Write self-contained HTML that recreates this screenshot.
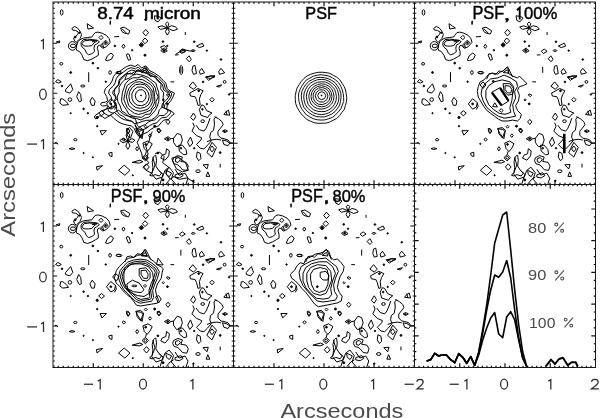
<!DOCTYPE html><html><head><meta charset="utf-8"><style>html,body{margin:0;padding:0;background:#fff}svg{display:block;will-change:transform}</style></head><body><svg width="600" height="418" viewBox="0 0 600 418"><g stroke="#1a1a1a" stroke-width="1" fill="none"><rect x="53" y="2" width="542.5" height="365.5" fill="none"/><line x1="233.5" y1="2" x2="233.5" y2="367.5"/><line x1="414.5" y1="2" x2="414.5" y2="367.5"/><line x1="53" y1="184.5" x2="595.5" y2="184.5"/><path d="M53 3.25L54.8 3.25M233.5 3.25L231.7 3.25M58.25 2L58.25 3.8M58.25 184.5L58.25 182.7M53 8.25L54.8 8.25M233.5 8.25L231.7 8.25M63.25 2L63.25 3.8M63.25 184.5L63.25 182.7M53 13.25L54.8 13.25M233.5 13.25L231.7 13.25M68.25 2L68.25 3.8M68.25 184.5L68.25 182.7M53 18.25L54.8 18.25M233.5 18.25L231.7 18.25M73.25 2L73.25 3.8M73.25 184.5L73.25 182.7M53 23.25L54.8 23.25M233.5 23.25L231.7 23.25M78.25 2L78.25 3.8M78.25 184.5L78.25 182.7M53 28.25L54.8 28.25M233.5 28.25L231.7 28.25M83.25 2L83.25 3.8M83.25 184.5L83.25 182.7M53 33.25L54.8 33.25M233.5 33.25L231.7 33.25M88.25 2L88.25 3.8M88.25 184.5L88.25 182.7M53 38.25L54.8 38.25M233.5 38.25L231.7 38.25M93.25 2L93.25 6.2M93.25 184.5L93.25 180.3M53 43.25L57.2 43.25M233.5 43.25L229.3 43.25M98.25 2L98.25 3.8M98.25 184.5L98.25 182.7M53 48.25L54.8 48.25M233.5 48.25L231.7 48.25M103.25 2L103.25 3.8M103.25 184.5L103.25 182.7M53 53.25L54.8 53.25M233.5 53.25L231.7 53.25M108.25 2L108.25 3.8M108.25 184.5L108.25 182.7M53 58.25L54.8 58.25M233.5 58.25L231.7 58.25M113.25 2L113.25 3.8M113.25 184.5L113.25 182.7M53 63.25L54.8 63.25M233.5 63.25L231.7 63.25M118.25 2L118.25 3.8M118.25 184.5L118.25 182.7M53 68.25L54.8 68.25M233.5 68.25L231.7 68.25M123.25 2L123.25 3.8M123.25 184.5L123.25 182.7M53 73.25L54.8 73.25M233.5 73.25L231.7 73.25M128.25 2L128.25 3.8M128.25 184.5L128.25 182.7M53 78.25L54.8 78.25M233.5 78.25L231.7 78.25M133.25 2L133.25 3.8M133.25 184.5L133.25 182.7M53 83.25L54.8 83.25M233.5 83.25L231.7 83.25M138.25 2L138.25 3.8M138.25 184.5L138.25 182.7M53 88.25L54.8 88.25M233.5 88.25L231.7 88.25M143.25 2L143.25 6.2M143.25 184.5L143.25 180.3M53 93.25L57.2 93.25M233.5 93.25L229.3 93.25M148.25 2L148.25 3.8M148.25 184.5L148.25 182.7M53 98.25L54.8 98.25M233.5 98.25L231.7 98.25M153.25 2L153.25 3.8M153.25 184.5L153.25 182.7M53 103.25L54.8 103.25M233.5 103.25L231.7 103.25M158.25 2L158.25 3.8M158.25 184.5L158.25 182.7M53 108.25L54.8 108.25M233.5 108.25L231.7 108.25M163.25 2L163.25 3.8M163.25 184.5L163.25 182.7M53 113.25L54.8 113.25M233.5 113.25L231.7 113.25M168.25 2L168.25 3.8M168.25 184.5L168.25 182.7M53 118.25L54.8 118.25M233.5 118.25L231.7 118.25M173.25 2L173.25 3.8M173.25 184.5L173.25 182.7M53 123.25L54.8 123.25M233.5 123.25L231.7 123.25M178.25 2L178.25 3.8M178.25 184.5L178.25 182.7M53 128.25L54.8 128.25M233.5 128.25L231.7 128.25M183.25 2L183.25 3.8M183.25 184.5L183.25 182.7M53 133.25L54.8 133.25M233.5 133.25L231.7 133.25M188.25 2L188.25 3.8M188.25 184.5L188.25 182.7M53 138.25L54.8 138.25M233.5 138.25L231.7 138.25M193.25 2L193.25 6.2M193.25 184.5L193.25 180.3M53 143.25L57.2 143.25M233.5 143.25L229.3 143.25M198.25 2L198.25 3.8M198.25 184.5L198.25 182.7M53 148.25L54.8 148.25M233.5 148.25L231.7 148.25M203.25 2L203.25 3.8M203.25 184.5L203.25 182.7M53 153.25L54.8 153.25M233.5 153.25L231.7 153.25M208.25 2L208.25 3.8M208.25 184.5L208.25 182.7M53 158.25L54.8 158.25M233.5 158.25L231.7 158.25M213.25 2L213.25 3.8M213.25 184.5L213.25 182.7M53 163.25L54.8 163.25M233.5 163.25L231.7 163.25M218.25 2L218.25 3.8M218.25 184.5L218.25 182.7M53 168.25L54.8 168.25M233.5 168.25L231.7 168.25M223.25 2L223.25 3.8M223.25 184.5L223.25 182.7M53 173.25L54.8 173.25M233.5 173.25L231.7 173.25M228.25 2L228.25 3.8M228.25 184.5L228.25 182.7M53 178.25L54.8 178.25M233.5 178.25L231.7 178.25M53 183.25L54.8 183.25M233.5 183.25L231.7 183.25M233.5 3.25L235.3 3.25M414.5 3.25L412.7 3.25M239 2L239 3.8M239 184.5L239 182.7M233.5 8.25L235.3 8.25M414.5 8.25L412.7 8.25M244 2L244 3.8M244 184.5L244 182.7M233.5 13.25L235.3 13.25M414.5 13.25L412.7 13.25M249 2L249 3.8M249 184.5L249 182.7M233.5 18.25L235.3 18.25M414.5 18.25L412.7 18.25M254 2L254 3.8M254 184.5L254 182.7M233.5 23.25L235.3 23.25M414.5 23.25L412.7 23.25M259 2L259 3.8M259 184.5L259 182.7M233.5 28.25L235.3 28.25M414.5 28.25L412.7 28.25M264 2L264 3.8M264 184.5L264 182.7M233.5 33.25L235.3 33.25M414.5 33.25L412.7 33.25M269 2L269 3.8M269 184.5L269 182.7M233.5 38.25L235.3 38.25M414.5 38.25L412.7 38.25M274 2L274 6.2M274 184.5L274 180.3M233.5 43.25L237.7 43.25M414.5 43.25L410.3 43.25M279 2L279 3.8M279 184.5L279 182.7M233.5 48.25L235.3 48.25M414.5 48.25L412.7 48.25M284 2L284 3.8M284 184.5L284 182.7M233.5 53.25L235.3 53.25M414.5 53.25L412.7 53.25M289 2L289 3.8M289 184.5L289 182.7M233.5 58.25L235.3 58.25M414.5 58.25L412.7 58.25M294 2L294 3.8M294 184.5L294 182.7M233.5 63.25L235.3 63.25M414.5 63.25L412.7 63.25M299 2L299 3.8M299 184.5L299 182.7M233.5 68.25L235.3 68.25M414.5 68.25L412.7 68.25M304 2L304 3.8M304 184.5L304 182.7M233.5 73.25L235.3 73.25M414.5 73.25L412.7 73.25M309 2L309 3.8M309 184.5L309 182.7M233.5 78.25L235.3 78.25M414.5 78.25L412.7 78.25M314 2L314 3.8M314 184.5L314 182.7M233.5 83.25L235.3 83.25M414.5 83.25L412.7 83.25M319 2L319 3.8M319 184.5L319 182.7M233.5 88.25L235.3 88.25M414.5 88.25L412.7 88.25M324 2L324 6.2M324 184.5L324 180.3M233.5 93.25L237.7 93.25M414.5 93.25L410.3 93.25M329 2L329 3.8M329 184.5L329 182.7M233.5 98.25L235.3 98.25M414.5 98.25L412.7 98.25M334 2L334 3.8M334 184.5L334 182.7M233.5 103.25L235.3 103.25M414.5 103.25L412.7 103.25M339 2L339 3.8M339 184.5L339 182.7M233.5 108.25L235.3 108.25M414.5 108.25L412.7 108.25M344 2L344 3.8M344 184.5L344 182.7M233.5 113.25L235.3 113.25M414.5 113.25L412.7 113.25M349 2L349 3.8M349 184.5L349 182.7M233.5 118.25L235.3 118.25M414.5 118.25L412.7 118.25M354 2L354 3.8M354 184.5L354 182.7M233.5 123.25L235.3 123.25M414.5 123.25L412.7 123.25M359 2L359 3.8M359 184.5L359 182.7M233.5 128.25L235.3 128.25M414.5 128.25L412.7 128.25M364 2L364 3.8M364 184.5L364 182.7M233.5 133.25L235.3 133.25M414.5 133.25L412.7 133.25M369 2L369 3.8M369 184.5L369 182.7M233.5 138.25L235.3 138.25M414.5 138.25L412.7 138.25M374 2L374 6.2M374 184.5L374 180.3M233.5 143.25L237.7 143.25M414.5 143.25L410.3 143.25M379 2L379 3.8M379 184.5L379 182.7M233.5 148.25L235.3 148.25M414.5 148.25L412.7 148.25M384 2L384 3.8M384 184.5L384 182.7M233.5 153.25L235.3 153.25M414.5 153.25L412.7 153.25M389 2L389 3.8M389 184.5L389 182.7M233.5 158.25L235.3 158.25M414.5 158.25L412.7 158.25M394 2L394 3.8M394 184.5L394 182.7M233.5 163.25L235.3 163.25M414.5 163.25L412.7 163.25M399 2L399 3.8M399 184.5L399 182.7M233.5 168.25L235.3 168.25M414.5 168.25L412.7 168.25M404 2L404 3.8M404 184.5L404 182.7M233.5 173.25L235.3 173.25M414.5 173.25L412.7 173.25M409 2L409 3.8M409 184.5L409 182.7M233.5 178.25L235.3 178.25M414.5 178.25L412.7 178.25M233.5 183.25L235.3 183.25M414.5 183.25L412.7 183.25M414.5 3.25L416.3 3.25M595.5 3.25L593.7 3.25M420 2L420 3.8M420 184.5L420 182.7M414.5 8.25L416.3 8.25M595.5 8.25L593.7 8.25M425 2L425 3.8M425 184.5L425 182.7M414.5 13.25L416.3 13.25M595.5 13.25L593.7 13.25M430 2L430 3.8M430 184.5L430 182.7M414.5 18.25L416.3 18.25M595.5 18.25L593.7 18.25M435 2L435 3.8M435 184.5L435 182.7M414.5 23.25L416.3 23.25M595.5 23.25L593.7 23.25M440 2L440 3.8M440 184.5L440 182.7M414.5 28.25L416.3 28.25M595.5 28.25L593.7 28.25M445 2L445 3.8M445 184.5L445 182.7M414.5 33.25L416.3 33.25M595.5 33.25L593.7 33.25M450 2L450 3.8M450 184.5L450 182.7M414.5 38.25L416.3 38.25M595.5 38.25L593.7 38.25M455 2L455 6.2M455 184.5L455 180.3M414.5 43.25L418.7 43.25M595.5 43.25L591.3 43.25M460 2L460 3.8M460 184.5L460 182.7M414.5 48.25L416.3 48.25M595.5 48.25L593.7 48.25M465 2L465 3.8M465 184.5L465 182.7M414.5 53.25L416.3 53.25M595.5 53.25L593.7 53.25M470 2L470 3.8M470 184.5L470 182.7M414.5 58.25L416.3 58.25M595.5 58.25L593.7 58.25M475 2L475 3.8M475 184.5L475 182.7M414.5 63.25L416.3 63.25M595.5 63.25L593.7 63.25M480 2L480 3.8M480 184.5L480 182.7M414.5 68.25L416.3 68.25M595.5 68.25L593.7 68.25M485 2L485 3.8M485 184.5L485 182.7M414.5 73.25L416.3 73.25M595.5 73.25L593.7 73.25M490 2L490 3.8M490 184.5L490 182.7M414.5 78.25L416.3 78.25M595.5 78.25L593.7 78.25M495 2L495 3.8M495 184.5L495 182.7M414.5 83.25L416.3 83.25M595.5 83.25L593.7 83.25M500 2L500 3.8M500 184.5L500 182.7M414.5 88.25L416.3 88.25M595.5 88.25L593.7 88.25M505 2L505 6.2M505 184.5L505 180.3M414.5 93.25L418.7 93.25M595.5 93.25L591.3 93.25M510 2L510 3.8M510 184.5L510 182.7M414.5 98.25L416.3 98.25M595.5 98.25L593.7 98.25M515 2L515 3.8M515 184.5L515 182.7M414.5 103.25L416.3 103.25M595.5 103.25L593.7 103.25M520 2L520 3.8M520 184.5L520 182.7M414.5 108.25L416.3 108.25M595.5 108.25L593.7 108.25M525 2L525 3.8M525 184.5L525 182.7M414.5 113.25L416.3 113.25M595.5 113.25L593.7 113.25M530 2L530 3.8M530 184.5L530 182.7M414.5 118.25L416.3 118.25M595.5 118.25L593.7 118.25M535 2L535 3.8M535 184.5L535 182.7M414.5 123.25L416.3 123.25M595.5 123.25L593.7 123.25M540 2L540 3.8M540 184.5L540 182.7M414.5 128.25L416.3 128.25M595.5 128.25L593.7 128.25M545 2L545 3.8M545 184.5L545 182.7M414.5 133.25L416.3 133.25M595.5 133.25L593.7 133.25M550 2L550 3.8M550 184.5L550 182.7M414.5 138.25L416.3 138.25M595.5 138.25L593.7 138.25M555 2L555 6.2M555 184.5L555 180.3M414.5 143.25L418.7 143.25M595.5 143.25L591.3 143.25M560 2L560 3.8M560 184.5L560 182.7M414.5 148.25L416.3 148.25M595.5 148.25L593.7 148.25M565 2L565 3.8M565 184.5L565 182.7M414.5 153.25L416.3 153.25M595.5 153.25L593.7 153.25M570 2L570 3.8M570 184.5L570 182.7M414.5 158.25L416.3 158.25M595.5 158.25L593.7 158.25M575 2L575 3.8M575 184.5L575 182.7M414.5 163.25L416.3 163.25M595.5 163.25L593.7 163.25M580 2L580 3.8M580 184.5L580 182.7M414.5 168.25L416.3 168.25M595.5 168.25L593.7 168.25M585 2L585 3.8M585 184.5L585 182.7M414.5 173.25L416.3 173.25M595.5 173.25L593.7 173.25M590 2L590 3.8M590 184.5L590 182.7M414.5 178.25L416.3 178.25M595.5 178.25L593.7 178.25M414.5 183.25L416.3 183.25M595.5 183.25L593.7 183.25M53 186L54.8 186M233.5 186L231.7 186M58.25 184.5L58.25 186.3M58.25 367.5L58.25 365.7M53 191L54.8 191M233.5 191L231.7 191M63.25 184.5L63.25 186.3M63.25 367.5L63.25 365.7M53 196L54.8 196M233.5 196L231.7 196M68.25 184.5L68.25 186.3M68.25 367.5L68.25 365.7M53 201L54.8 201M233.5 201L231.7 201M73.25 184.5L73.25 186.3M73.25 367.5L73.25 365.7M53 206L54.8 206M233.5 206L231.7 206M78.25 184.5L78.25 186.3M78.25 367.5L78.25 365.7M53 211L54.8 211M233.5 211L231.7 211M83.25 184.5L83.25 186.3M83.25 367.5L83.25 365.7M53 216L54.8 216M233.5 216L231.7 216M88.25 184.5L88.25 186.3M88.25 367.5L88.25 365.7M53 221L54.8 221M233.5 221L231.7 221M93.25 184.5L93.25 188.7M93.25 367.5L93.25 363.3M53 226L57.2 226M233.5 226L229.3 226M98.25 184.5L98.25 186.3M98.25 367.5L98.25 365.7M53 231L54.8 231M233.5 231L231.7 231M103.25 184.5L103.25 186.3M103.25 367.5L103.25 365.7M53 236L54.8 236M233.5 236L231.7 236M108.25 184.5L108.25 186.3M108.25 367.5L108.25 365.7M53 241L54.8 241M233.5 241L231.7 241M113.25 184.5L113.25 186.3M113.25 367.5L113.25 365.7M53 246L54.8 246M233.5 246L231.7 246M118.25 184.5L118.25 186.3M118.25 367.5L118.25 365.7M53 251L54.8 251M233.5 251L231.7 251M123.25 184.5L123.25 186.3M123.25 367.5L123.25 365.7M53 256L54.8 256M233.5 256L231.7 256M128.25 184.5L128.25 186.3M128.25 367.5L128.25 365.7M53 261L54.8 261M233.5 261L231.7 261M133.25 184.5L133.25 186.3M133.25 367.5L133.25 365.7M53 266L54.8 266M233.5 266L231.7 266M138.25 184.5L138.25 186.3M138.25 367.5L138.25 365.7M53 271L54.8 271M233.5 271L231.7 271M143.25 184.5L143.25 188.7M143.25 367.5L143.25 363.3M53 276L57.2 276M233.5 276L229.3 276M148.25 184.5L148.25 186.3M148.25 367.5L148.25 365.7M53 281L54.8 281M233.5 281L231.7 281M153.25 184.5L153.25 186.3M153.25 367.5L153.25 365.7M53 286L54.8 286M233.5 286L231.7 286M158.25 184.5L158.25 186.3M158.25 367.5L158.25 365.7M53 291L54.8 291M233.5 291L231.7 291M163.25 184.5L163.25 186.3M163.25 367.5L163.25 365.7M53 296L54.8 296M233.5 296L231.7 296M168.25 184.5L168.25 186.3M168.25 367.5L168.25 365.7M53 301L54.8 301M233.5 301L231.7 301M173.25 184.5L173.25 186.3M173.25 367.5L173.25 365.7M53 306L54.8 306M233.5 306L231.7 306M178.25 184.5L178.25 186.3M178.25 367.5L178.25 365.7M53 311L54.8 311M233.5 311L231.7 311M183.25 184.5L183.25 186.3M183.25 367.5L183.25 365.7M53 316L54.8 316M233.5 316L231.7 316M188.25 184.5L188.25 186.3M188.25 367.5L188.25 365.7M53 321L54.8 321M233.5 321L231.7 321M193.25 184.5L193.25 188.7M193.25 367.5L193.25 363.3M53 326L57.2 326M233.5 326L229.3 326M198.25 184.5L198.25 186.3M198.25 367.5L198.25 365.7M53 331L54.8 331M233.5 331L231.7 331M203.25 184.5L203.25 186.3M203.25 367.5L203.25 365.7M53 336L54.8 336M233.5 336L231.7 336M208.25 184.5L208.25 186.3M208.25 367.5L208.25 365.7M53 341L54.8 341M233.5 341L231.7 341M213.25 184.5L213.25 186.3M213.25 367.5L213.25 365.7M53 346L54.8 346M233.5 346L231.7 346M218.25 184.5L218.25 186.3M218.25 367.5L218.25 365.7M53 351L54.8 351M233.5 351L231.7 351M223.25 184.5L223.25 186.3M223.25 367.5L223.25 365.7M53 356L54.8 356M233.5 356L231.7 356M228.25 184.5L228.25 186.3M228.25 367.5L228.25 365.7M53 361L54.8 361M233.5 361L231.7 361M53 366L54.8 366M233.5 366L231.7 366M233.5 186L235.3 186M414.5 186L412.7 186M239 184.5L239 186.3M239 367.5L239 365.7M233.5 191L235.3 191M414.5 191L412.7 191M244 184.5L244 186.3M244 367.5L244 365.7M233.5 196L235.3 196M414.5 196L412.7 196M249 184.5L249 186.3M249 367.5L249 365.7M233.5 201L235.3 201M414.5 201L412.7 201M254 184.5L254 186.3M254 367.5L254 365.7M233.5 206L235.3 206M414.5 206L412.7 206M259 184.5L259 186.3M259 367.5L259 365.7M233.5 211L235.3 211M414.5 211L412.7 211M264 184.5L264 186.3M264 367.5L264 365.7M233.5 216L235.3 216M414.5 216L412.7 216M269 184.5L269 186.3M269 367.5L269 365.7M233.5 221L235.3 221M414.5 221L412.7 221M274 184.5L274 188.7M274 367.5L274 363.3M233.5 226L237.7 226M414.5 226L410.3 226M279 184.5L279 186.3M279 367.5L279 365.7M233.5 231L235.3 231M414.5 231L412.7 231M284 184.5L284 186.3M284 367.5L284 365.7M233.5 236L235.3 236M414.5 236L412.7 236M289 184.5L289 186.3M289 367.5L289 365.7M233.5 241L235.3 241M414.5 241L412.7 241M294 184.5L294 186.3M294 367.5L294 365.7M233.5 246L235.3 246M414.5 246L412.7 246M299 184.5L299 186.3M299 367.5L299 365.7M233.5 251L235.3 251M414.5 251L412.7 251M304 184.5L304 186.3M304 367.5L304 365.7M233.5 256L235.3 256M414.5 256L412.7 256M309 184.5L309 186.3M309 367.5L309 365.7M233.5 261L235.3 261M414.5 261L412.7 261M314 184.5L314 186.3M314 367.5L314 365.7M233.5 266L235.3 266M414.5 266L412.7 266M319 184.5L319 186.3M319 367.5L319 365.7M233.5 271L235.3 271M414.5 271L412.7 271M324 184.5L324 188.7M324 367.5L324 363.3M233.5 276L237.7 276M414.5 276L410.3 276M329 184.5L329 186.3M329 367.5L329 365.7M233.5 281L235.3 281M414.5 281L412.7 281M334 184.5L334 186.3M334 367.5L334 365.7M233.5 286L235.3 286M414.5 286L412.7 286M339 184.5L339 186.3M339 367.5L339 365.7M233.5 291L235.3 291M414.5 291L412.7 291M344 184.5L344 186.3M344 367.5L344 365.7M233.5 296L235.3 296M414.5 296L412.7 296M349 184.5L349 186.3M349 367.5L349 365.7M233.5 301L235.3 301M414.5 301L412.7 301M354 184.5L354 186.3M354 367.5L354 365.7M233.5 306L235.3 306M414.5 306L412.7 306M359 184.5L359 186.3M359 367.5L359 365.7M233.5 311L235.3 311M414.5 311L412.7 311M364 184.5L364 186.3M364 367.5L364 365.7M233.5 316L235.3 316M414.5 316L412.7 316M369 184.5L369 186.3M369 367.5L369 365.7M233.5 321L235.3 321M414.5 321L412.7 321M374 184.5L374 188.7M374 367.5L374 363.3M233.5 326L237.7 326M414.5 326L410.3 326M379 184.5L379 186.3M379 367.5L379 365.7M233.5 331L235.3 331M414.5 331L412.7 331M384 184.5L384 186.3M384 367.5L384 365.7M233.5 336L235.3 336M414.5 336L412.7 336M389 184.5L389 186.3M389 367.5L389 365.7M233.5 341L235.3 341M414.5 341L412.7 341M394 184.5L394 186.3M394 367.5L394 365.7M233.5 346L235.3 346M414.5 346L412.7 346M399 184.5L399 186.3M399 367.5L399 365.7M233.5 351L235.3 351M414.5 351L412.7 351M404 184.5L404 186.3M404 367.5L404 365.7M233.5 356L235.3 356M414.5 356L412.7 356M409 184.5L409 186.3M409 367.5L409 365.7M233.5 361L235.3 361M414.5 361L412.7 361M233.5 366L235.3 366M414.5 366L412.7 366M419.02 184.5L419.02 186.3M419.02 367.5L419.02 365.7M423.55 184.5L423.55 186.3M423.55 367.5L423.55 365.7M428.07 184.5L428.07 186.3M428.07 367.5L428.07 365.7M432.6 184.5L432.6 186.3M432.6 367.5L432.6 365.7M437.12 184.5L437.12 186.3M437.12 367.5L437.12 365.7M441.65 184.5L441.65 186.3M441.65 367.5L441.65 365.7M446.18 184.5L446.18 186.3M446.18 367.5L446.18 365.7M450.7 184.5L450.7 186.3M450.7 367.5L450.7 365.7M455.23 184.5L455.23 186.3M455.23 367.5L455.23 365.7M459.75 184.5L459.75 188.7M459.75 367.5L459.75 363.3M464.27 184.5L464.27 186.3M464.27 367.5L464.27 365.7M468.8 184.5L468.8 186.3M468.8 367.5L468.8 365.7M473.32 184.5L473.32 186.3M473.32 367.5L473.32 365.7M477.85 184.5L477.85 186.3M477.85 367.5L477.85 365.7M482.38 184.5L482.38 186.3M482.38 367.5L482.38 365.7M486.9 184.5L486.9 186.3M486.9 367.5L486.9 365.7M491.43 184.5L491.43 186.3M491.43 367.5L491.43 365.7M495.95 184.5L495.95 186.3M495.95 367.5L495.95 365.7M500.48 184.5L500.48 186.3M500.48 367.5L500.48 365.7M505 184.5L505 188.7M505 367.5L505 363.3M509.52 184.5L509.52 186.3M509.52 367.5L509.52 365.7M514.05 184.5L514.05 186.3M514.05 367.5L514.05 365.7M518.58 184.5L518.58 186.3M518.58 367.5L518.58 365.7M523.1 184.5L523.1 186.3M523.1 367.5L523.1 365.7M527.62 184.5L527.62 186.3M527.62 367.5L527.62 365.7M532.15 184.5L532.15 186.3M532.15 367.5L532.15 365.7M536.67 184.5L536.67 186.3M536.67 367.5L536.67 365.7M541.2 184.5L541.2 186.3M541.2 367.5L541.2 365.7M545.73 184.5L545.73 186.3M545.73 367.5L545.73 365.7M550.25 184.5L550.25 188.7M550.25 367.5L550.25 363.3M554.77 184.5L554.77 186.3M554.77 367.5L554.77 365.7M559.3 184.5L559.3 186.3M559.3 367.5L559.3 365.7M563.83 184.5L563.83 186.3M563.83 367.5L563.83 365.7M568.35 184.5L568.35 186.3M568.35 367.5L568.35 365.7M572.88 184.5L572.88 186.3M572.88 367.5L572.88 365.7M577.4 184.5L577.4 186.3M577.4 367.5L577.4 365.7M581.92 184.5L581.92 186.3M581.92 367.5L581.92 365.7M586.45 184.5L586.45 186.3M586.45 367.5L586.45 365.7M590.98 184.5L590.98 186.3M590.98 367.5L590.98 365.7M414.5 359.57L416.3 359.57M595.5 359.57L593.7 359.57M414.5 351.65L416.3 351.65M595.5 351.65L593.7 351.65M414.5 343.73L416.3 343.73M595.5 343.73L593.7 343.73M414.5 335.8L418.7 335.8M595.5 335.8L591.3 335.8M414.5 327.88L416.3 327.88M595.5 327.88L593.7 327.88M414.5 319.95L416.3 319.95M595.5 319.95L593.7 319.95M414.5 312.02L416.3 312.02M595.5 312.02L593.7 312.02M414.5 304.1L418.7 304.1M595.5 304.1L591.3 304.1M414.5 296.18L416.3 296.18M595.5 296.18L593.7 296.18M414.5 288.25L416.3 288.25M595.5 288.25L593.7 288.25M414.5 280.32L416.3 280.32M595.5 280.32L593.7 280.32M414.5 272.4L418.7 272.4M595.5 272.4L591.3 272.4M414.5 264.48L416.3 264.48M595.5 264.48L593.7 264.48M414.5 256.55L416.3 256.55M595.5 256.55L593.7 256.55M414.5 248.62L416.3 248.62M595.5 248.62L593.7 248.62M414.5 240.7L418.7 240.7M595.5 240.7L591.3 240.7M414.5 232.78L416.3 232.78M595.5 232.78L593.7 232.78M414.5 224.85L416.3 224.85M595.5 224.85L593.7 224.85M414.5 216.93L416.3 216.93M595.5 216.93L593.7 216.93M414.5 209L418.7 209M595.5 209L591.3 209M414.5 201.08L416.3 201.08M595.5 201.08L593.7 201.08M414.5 193.15L416.3 193.15M595.5 193.15L593.7 193.15" stroke="#111" stroke-width="1.2"/></g><g stroke="#2a2a2a" stroke-width="1.25" fill="none"><path d="M40.9 41.3L43.4 39.62V49.2"/><ellipse cx="42.95" cy="94.25" rx="3.32" ry="5.03"/><path d="M27.2 144.1H37"/><path d="M41 141.3L43.5 139.62V149.2"/><path d="M40.9 224.1L43.4 222.43V232"/><ellipse cx="42.95" cy="277" rx="3.32" ry="4.98"/><path d="M27.2 326.9H37"/><path d="M41 324.1L43.5 322.43V332"/><path d="M84 384.25H93"/><path d="M97.7 381.3L100.2 379.62V389.5"/><ellipse cx="143" cy="384.15" rx="3.47" ry="4.92"/><path d="M190.4 381.3L192.9 379.62V389.5"/><path d="M264.9 384.25H273.9"/><path d="M279.3 381.3L281.8 379.62V389.5"/><ellipse cx="323.3" cy="384.15" rx="3.47" ry="4.92"/><path d="M371.1 381.3L373.6 379.62V389.5"/><path d="M404.6 384.25H413.7"/><path d="M416.92 381.73C417.08 379.63 418.64 379.31 420.04 379.31C421.92 379.31 423.16 380.57 423.16 382.15C423.16 383.83 421.76 385.09 417 388.87L423.71 388.87"/><path d="M449.7 384.25H458.7"/><path d="M464.4 381.3L466.9 379.62V389.5"/><ellipse cx="504.1" cy="384.15" rx="3.47" ry="4.92"/><path d="M548.3 381.3L550.8 379.62V389.5"/><path d="M591.56 381.73C591.73 379.63 593.39 379.31 594.88 379.31C596.88 379.31 598.2 380.57 598.2 382.15C598.2 383.83 596.71 385.09 591.65 388.87L598.79 388.87"/></g><g font-family="Liberation Sans" stroke="#000" stroke-width="0.45"><text transform="translate(97.20,19.33) scale(1.092,1)" font-size="17.24" fill="#000">8.74</text><text transform="translate(144.02,18.84) scale(1.182,1)" font-size="16.05" fill="#000">micron</text><text transform="translate(305.36,18.83) scale(0.958,1)" font-size="16.96" fill="#000">PSF</text><text transform="translate(472.40,19.22) scale(0.925,1)" font-size="17.67" fill="#000">PSF</text><text transform="translate(503.86,19.70) scale(1.446,1)" font-size="14.89" fill="#000">,</text><path d="M516.9 10.2L519.7 7.6V19.4" fill="none" stroke="#000" stroke-width="1.9"/><text transform="translate(523.93,19.23) scale(0.959,1)" font-size="17.39" fill="#000">00%</text><text transform="translate(110.86,201.62) scale(0.918,1)" font-size="17.67" fill="#000">PSF</text><text transform="translate(142.76,202.10) scale(1.446,1)" font-size="14.89" fill="#000">,</text><text transform="translate(152.62,201.63) scale(0.942,1)" font-size="17.39" fill="#000">90%</text><text transform="translate(291.26,201.62) scale(0.918,1)" font-size="17.67" fill="#000">PSF</text><text transform="translate(323.46,202.10) scale(1.446,1)" font-size="14.89" fill="#000">,</text><text transform="translate(332.50,201.63) scale(0.945,1)" font-size="17.39" fill="#000">80%</text></g><g font-family="Liberation Sans"><text transform="translate(528.11,232.85) scale(1.069,1)" font-size="15.27" fill="#4a4a4a">80</text><g fill="none" stroke="#4a4a4a" stroke-width="1.05"><circle cx="556.26" cy="224.58" r="1.47"/><circle cx="562.14" cy="230.84" r="1.47"/><path d="M555.08 232.70L563.90 222.50"/></g><text transform="translate(528.02,280.45) scale(1.094,1)" font-size="14.98" fill="#4a4a4a">90</text><g fill="none" stroke="#4a4a4a" stroke-width="1.05"><circle cx="556.36" cy="272.33" r="1.47"/><circle cx="562.24" cy="278.48" r="1.47"/><path d="M555.18 280.30L564.00 270.30"/></g><text transform="translate(529.12,327.55) scale(1.072,1)" font-size="14.70" fill="#4a4a4a">100</text><g fill="none" stroke="#4a4a4a" stroke-width="1.05"><circle cx="565.66" cy="319.59" r="1.40"/><circle cx="571.24" cy="325.62" r="1.40"/><path d="M564.54 327.40L572.90 317.60"/></g><text transform="translate(280.44,417.69) scale(1.130,1)" font-size="20.82" fill="#4a4a4a">Arcseconds</text></g><g font-family="Liberation Sans" transform="rotate(-90)"><text transform="translate(-236.66,14.89) scale(1.132,1)" font-size="20.95" fill="#4a4a4a">Arcseconds</text></g><g stroke="#000" stroke-width="1.6" fill="none" stroke-linejoin="round"><polyline points="426.7,361.1 430.7,359.7 434.7,353.3 438.7,356 442.7,354.7 446.7,355.3 450.7,359.7 454.7,362.7 458.7,353.7 462.7,357.3 466.7,363.3 470.7,356.7 474.7,365.3 478.7,355 482.7,340 486.7,328 490.7,318 494.7,312.6 498.7,334 502.7,337.7 506.7,317 510.7,311.7 514.7,320 518.7,340 522.7,358 526.7,366.5"/><polyline points="426.7,361.1 430.7,359.7 434.7,353.3 438.7,356 442.7,354.7 446.7,355.3 450.7,359.7 454.7,362.7 458.7,353.7 462.7,357.3 466.7,363.3 470.7,356.7 474.7,365.3 478.7,353 482.7,333 486.7,310 490.7,290 494.7,275 498.7,277.3 502.7,272 506.7,260.5 510.7,278 514.7,310 518.7,338 522.7,358 526.7,366.5"/><polyline points="426.7,361.1 430.7,359.7 434.7,353.3 438.7,356 442.7,354.7 446.7,355.3 450.7,359.7 454.7,362.7 458.7,353.7 462.7,357.3 466.7,363.3 470.7,356.7 474.7,365.3 478.7,352 482.7,330 486.7,305 490.7,275 494.7,243 498.7,229 502.7,215 506.7,212 510.7,250 514.7,290 518.7,325 522.7,352 526.7,366.5"/><polyline points="545.7,366.5 551,359.6 555,364 559,359 563,357.7 567.7,365.3 571.7,362.3 575.7,362.3 577.7,366.5" stroke-width="2"/></g><defs><clipPath id="c0"><rect x="53.5" y="2.5" width="179.5" height="181.5"/></clipPath><clipPath id="c1"><rect x="234" y="2.5" width="180" height="181.5"/></clipPath><clipPath id="c2"><rect x="415" y="2.5" width="180" height="181.5"/></clipPath><clipPath id="c3"><rect x="53.5" y="185" width="179.5" height="182"/></clipPath><clipPath id="c4"><rect x="234" y="185" width="180" height="182"/></clipPath><g id="nz"><polygon points="34.5,21.9 40.9,26.2 35.2,27.2"/><polygon points="19.2,26.6 21.9,24.7 24.6,26 27.3,29.3 28.9,33 27.3,36.8 25.2,39 23.5,40.6 21.9,39 20.8,36.3 23,34.6 25.2,32.5 25.7,30.3 23,28.7 19.8,28.2"/><polygon points="24.1,48.7 26.8,49.7 29.5,53.5 31.1,57.8 34.9,58.9 39.2,57.3 42.9,55.1 45.6,53.5 45.6,49.7 44.6,46.5 45.1,44.3 46.7,43.3 49.9,46.5 53.7,44.9 57.5,40.6 56.4,36.8 53.7,33.6 49.4,31.4 45.1,30.3 42.4,30.9 40.2,33.6 39.2,35.2 34.9,35.7 30.5,36.3 27.3,37.9 25.2,40 24.1,43.3 23.5,46.5"/><polygon points="28.4,40.6 30.5,37.9 34.9,37.3 40.2,37.9 44.6,38.4 46.7,40 44,42.2 41.9,43.3 41.3,46.5 41.9,49.7 39.2,51.9 35.9,53 33.8,51.3 32.2,47.6 29.5,45.4 28.4,43.3"/><polygon points="29.5,41.6 31.6,39 37,38.4 44.6,39 41.3,41.1 39.2,43.8 35.9,44.3 32.7,44.3 30.5,43.8"/><polygon points="48.3,33.6 50.5,35.7 48.3,37.9 46.2,35.7"/><polygon points="52.9,38.4 55.3,40.8 52.9,43.3 50.5,40.8"/><polygon points="47.8,43.4 49.8,41.6 51,46"/><polygon points="3.6,40.1 7.2,39.1 6.5,41.2"/><polygon points="67.9,26.2 71.5,25.4 77.2,29 75.8,32.3 71.5,31.2 69.3,29.8"/><polygon points="93,27.6 95.9,30.9 93,34.1 90.2,30.9"/><polygon points="92.3,36.2 95.2,39.1 92.3,42 89.7,39.1"/><polygon points="88.7,40.7 90.9,43.1 88.7,45.4 86.5,43.1"/><polygon points="114.6,26.2 112.8,21.9 114.6,20.2 116.3,21.9"/><polygon points="114.6,26.2 109.3,24 105.2,25.2 107.8,27.6"/><polygon points="114.6,26.2 112.6,29.9 114.6,33.3 116.7,29.9"/><polygon points="114.6,26.2 118.6,23.9 122.8,25 124.8,27.4 120.3,28.9"/><polygon points="70.8,42.4 72.3,44.5 70.8,46.6 69.3,44.5"/><polygon points="74.3,52 76.5,52.6 78,57.7 75.8,58.5 73.7,53.4"/><polygon points="108.1,48.7 111.7,46.3 114.6,49.1 111,51"/><polygon points="88.7,70.7 93,67.8 94.5,71.4"/><polygon points="143.8,44.3 149.7,41.4 151.2,44.3 146.7,45.8"/><polygon points="126.7,49.5 129.7,47.3 132.6,49.5 128.9,51.7"/><polygon points="136.4,54 138.6,57.7 136.4,59.9 133.7,56.9"/><polygon points="140.1,64.4 142.3,63.6 143.8,71.8 140.8,72.5 139.3,68.8"/><polygon points="149,66.6 151.9,71 147.5,72.5 146.7,69.5"/><polygon points="168.3,66.6 172,71 166.8,72.5 166,69.5"/><polygon points="153.5,75.4 158.3,73.9 162.3,74.9 157.8,76.9"/><polygon points="2.9,80 5,77.7 8.6,80 5.8,81.3"/><polygon points="12.9,87.8 18,82 20.1,87.8 17.2,91.3 12.9,89.9"/><polygon points="25.9,89.9 28,92.8 28.7,99.2 26.6,100 24,94.9"/><polygon points="7.9,97.1 10.1,97.1 13.7,100 15.8,102.8 10.1,103.5 7.2,101.4"/><polygon points="39.5,95.6 42.4,99.2 41.6,103.5 38.8,103.5 37.3,99.2"/><polygon points="58.1,96.9 62.8,100.9 61.8,105.4 58.1,107.4 53.8,102.1"/><polygon points="48.8,108.9 51.8,111.4 48.8,113.9 46,111.4"/><polygon points="114.6,92 117.4,93.4 116,94.8 113.8,93.4"/><polygon points="109.5,98.1 110.6,97 111.7,98.1 110.6,99.2"/><polygon points="75.5,127.7 77.3,129.2 75.5,130.7 73.7,129.2"/><polygon points="83.7,127 88.7,127.7 90.2,129.8 88,136.3 84.4,132"/><polygon points="93,123.4 94.5,124.9 93,126.4 91.6,124.9"/><polygon points="106.3,126.3 108.1,128.8 106.3,131.3 104.5,128.8"/><polygon points="97.3,132 98.8,133.8 97.3,135.6 95.9,133.8"/><polygon points="115.3,117.6 117.4,120.1 115.3,122.7 113.1,120.1"/><polygon points="111.7,137 115.3,134.9 118.1,137 115.3,139.2"/><polygon points="69.3,137.7 71.1,136.3 72.9,137.7 71.1,139.2"/><polygon points="90.2,141.3 95.2,139.2 99.5,142 97.3,146.4 94.5,149.8 91.6,146.9"/><polygon points="92.7,152.7 95.9,155.9 92.7,159.1 89.4,155.9"/><polygon points="92.7,154.4 94.3,155.9 92.7,157.4 91.1,155.9"/><polygon points="84.4,144.9 85.9,147 84.4,149.1 83,147"/><polygon points="73.7,126.8 75.5,126.6 77.3,129.3 75.5,131.9 74.1,129.4"/><polygon points="83,126.8 87.7,125.8 90.9,128.4 89.4,136.9 85.3,131.4"/><polygon points="104.5,126.8 108.1,128.9 106.3,131.1 104.8,128.9"/><polygon points="113.8,146.9 116.7,149.1 116,154.1 112.4,158.4 108.1,156.3 109.5,153.4 113.1,152"/><polygon points="79.4,160.6 87.3,158.4 90.2,159.9 86.6,161.3"/><polygon points="90.9,165.2 93.8,162 96.6,165.2 93.8,168.4"/><polygon points="71.5,163.4 77.3,168.5 72.2,173.5 65.8,168.5"/><polygon points="101.6,154.1 103.1,153.4 103.8,158.4 103.1,164.2 105.9,168.5 108.8,171.3 106.7,174.2 102.4,172.8 99.5,174.2 96.9,173.5 99.5,170.6 100.2,165.6 99.5,159.8 100.9,154.8"/><polygon points="113.1,168.5 118.9,171.3 116.7,174.9 113.8,172.8"/><polygon points="152.7,75.1 162.3,73.9 155.8,78.6"/><polygon points="163.8,84.6 169,83 166.8,85.3"/><polygon points="140.1,80.1 143.8,84.5 140.8,87.5 136.4,84.5"/><polygon points="137.1,91.2 145.3,86.7 150.4,89 148.2,92.7 146.7,97.1 147.5,103.1 145.3,103.8 143.8,97.9 142.3,94.9 137.8,94.2"/><polygon points="159.3,95.6 161.6,97.9 159.3,100.1 157.1,97.9"/><polygon points="149,103.1 151.2,103.8 154.2,109 159.3,111.2 156.4,113.4 154.9,115.7 148.2,113.4 146.7,107.5"/><polygon points="172,111.2 175.7,108.3 177.1,113.4 171.2,112.7"/><polygon points="140.8,111.2 143,114.9 140.8,118.6 137.8,115.7"/><polygon points="159.3,140.5 163.8,145.6 159.3,155.3 154.2,150.8"/><polygon points="159.3,144.2 161.6,147.2 159.3,150.1 157.1,147.2"/><polygon points="169.7,138.2 173.4,139 177.1,141.2 175.3,143.9 171.2,142.7"/><polygon points="169.7,129.3 172.3,127.9 174.9,129.3 172.3,130.8"/><polygon points="120.8,136.7 124.5,131.6 128.2,133 129.7,138.2 127.5,144.2 123.8,144.9 120.8,140.5"/><polygon points="126,143.4 129.7,143.4 133.4,147.9 134.1,152.3 131.2,153.1 126.7,149.4"/><polygon points="137.8,135.3 140.1,141.2 137.1,144.9 134.9,140.5"/><polygon points="144.5,150.1 147.5,151.6 148.2,156.8 146,159 143.8,155.3"/><polygon points="120.8,156 125.2,153.8 129.7,155.3 128.2,159.7 133.4,160.5 135.6,164.2 134.1,168.6 129.7,167.9 126.7,164.2 124.5,162.7 121.5,162 120,159"/><polygon points="122.8,156.9 125.8,155.8 127.7,157.9 125.3,160.7 122.8,159.9"/><polygon points="122.3,173.1 128.2,170.9 130.4,173.8 126.7,176.1 122.3,175.3"/><polygon points="150.4,163 155.6,162.7 154.2,167.2"/><polygon points="155.1,170.1 157.1,174.6 153.4,174.6"/><polygon points="47.4,128.9 53.8,128.9 49.3,133.3"/><polygon points="16.5,146.9 19.3,146 22.3,146.9 19.3,147.7"/><polygon points="43.8,164.9 49.8,163.9 44.3,168.4"/><polygon points="56,151.4 59.3,150.5 59.3,154.8 56.8,153.9"/><polygon points="101.6,14 106.2,14.7 108.5,16.3 105.4,20.1 102.3,18.6"/><polygon points="52.8,58.4 54.8,53.9 58.3,51.2 60.8,53.4 58.8,57.4 54.8,58.9"/><polyline points="39.2,40 42.4,39.8"/><polyline points="36,70.4 36,80.4"/><polyline points="57.4,19.4 57.4,22.8"/><polyline points="69.3,26.9 73.8,31.4"/><polyline points="61.5,35 66.5,34.7"/><polyline points="72.2,77.4 74.4,72.1 78,71.4 80.8,72.8 84.4,69.2 88,69.7 93,64.9 95.2,69.2 98.1,75"/><polyline points="132.6,30.2 132.6,33.2"/><polyline points="122.3,53.2 126,53"/><polyline points="128.2,65.1 128.2,71"/><polyline points="62.8,100.9 63.6,104.4 61.8,107.8"/><polyline points="117.8,80 121.5,80.1"/><polyline points="118.1,137 121.3,136.4"/><polyline points="93.7,149.4 92.8,152.7"/><polyline points="105.9,168.5 110.3,172.4 108.8,177.4 107.3,182.2"/><polyline points="113.3,182.2 117.3,177.4 120.8,175.3"/><polyline points="173.3,108.9 174.3,113.4"/><polyline points="140.1,120.9 141.6,124.4 139.3,129.3 143.8,133.8 149,136 148.2,138.2 143.8,142.7 147.5,146.4 151.2,147.1 154.9,143.4 158.6,139 157.1,135.3 157.9,130.8 160.8,128.6 161.8,122.4 161.3,117.4 163.3,114.9"/><polyline points="143.3,123.4 146.7,127.9 151.2,129.3 153.4,126.4 155.6,121.4 157.3,116.4"/><polyline points="161.8,114.9 165.8,116.9 169.3,119.9 170.5,122.9 167.8,126.4 165.3,129.4 165.3,133.4 168.3,136.4 171.3,136.9 175.3,138.2 177.5,141.2 181.3,141.2"/><polyline points="158.6,138.2 163.8,137.5 168.3,138.2"/><polyline points="158.6,138.2 154.2,139.9"/><polyline points="167.5,162 167.5,165.7"/><polyline points="2.3,140.7 4.6,141.2 5,142.6"/><polyline points="57.8,18.9 57.8,22.6"/><polyline points="100,155.6 102.3,163.2 99,172 103.3,177.4 109.9,175.2 112.1,168.7 116.4,165.4 120.8,170.9 118.6,177.4 123,182.4"/><polyline points="122.3,167.4 126.3,173.4 132.3,171.4 135.3,176.4 133.3,182.4"/><ellipse cx="19.8" cy="44.1" rx="4.1" ry="4.3"/><ellipse cx="20.3" cy="44.1" rx="2.6" ry="1.8"/><ellipse cx="8.6" cy="62" rx="1.5" ry="1.3"/><ellipse cx="57.4" cy="70.7" rx="1.3" ry="1.8"/><ellipse cx="9" cy="10.6" rx="1.3" ry="2.8"/><ellipse cx="66.5" cy="70.9" rx="2.8" ry="1.2"/><ellipse cx="140.5" cy="48.8" rx="1.8" ry="0.8"/><ellipse cx="30.1" cy="84.2" rx="2.2" ry="1"/><ellipse cx="17.2" cy="97.8" rx="1.8" ry="1.8"/><ellipse cx="65.7" cy="70.8" rx="2.3" ry="1.1"/><ellipse cx="171.9" cy="80.1" rx="1.4" ry="1.4"/><ellipse cx="150" cy="119.4" rx="1.8" ry="1.4"/><ellipse cx="145.3" cy="169.4" rx="2.2" ry="1.4"/><ellipse cx="22.6" cy="137.9" rx="1.6" ry="1.1"/><circle cx="22.5" cy="35.2" r="0.9" fill="#000"/><circle cx="26.8" cy="30.9" r="0.7" fill="#000"/><circle cx="52.9" cy="40.8" r="0.8" fill="#000"/><circle cx="40.2" cy="61.3" r="0.9" fill="#000"/><circle cx="45.2" cy="66.4" r="0.8" fill="#000"/><circle cx="18" cy="70.7" r="0.9" fill="#000"/><circle cx="93" cy="17.8" r="1" fill="#000"/><circle cx="88.7" cy="43.1" r="1.2" fill="#000"/><circle cx="62.2" cy="44.1" r="0.8" fill="#000"/><circle cx="79.4" cy="48.4" r="0.7" fill="#000"/><circle cx="92.3" cy="53.4" r="1" fill="#000"/><circle cx="110.3" cy="39.8" r="0.8" fill="#000"/><circle cx="111.3" cy="48.7" r="1" fill="#000"/><circle cx="114.6" cy="44.1" r="0.7" fill="#000"/><circle cx="141.5" cy="39.9" r="0.8" fill="#000"/><circle cx="154.2" cy="48.8" r="0.7" fill="#000"/><circle cx="168.3" cy="57.7" r="0.8" fill="#000"/><circle cx="9.3" cy="84.2" r="0.8" fill="#000"/><circle cx="58.1" cy="102.1" r="0.9" fill="#000"/><circle cx="30.9" cy="107.1" r="0.8" fill="#000"/><circle cx="18" cy="111.4" r="0.6" fill="#000"/><circle cx="35.2" cy="111.4" r="0.7" fill="#000"/><circle cx="44.5" cy="115.7" r="1.1" fill="#000"/><circle cx="44.5" cy="124.4" r="0.7" fill="#000"/><circle cx="53.1" cy="79.9" r="0.7" fill="#000"/><circle cx="114.6" cy="102" r="0.8" fill="#000"/><circle cx="102" cy="124.4" r="1" fill="#000"/><circle cx="114.9" cy="102.2" r="0.7" fill="#000"/><circle cx="115.1" cy="137" r="0.9" fill="#000"/><circle cx="65.8" cy="142" r="0.6" fill="#000"/><circle cx="93" cy="142.6" r="0.9" fill="#000"/><circle cx="105.2" cy="151.2" r="0.9" fill="#000"/><circle cx="110.3" cy="178.1" r="1" fill="#000"/><circle cx="80.1" cy="173.5" r="0.6" fill="#000"/><circle cx="150.4" cy="80.1" r="0.8" fill="#000"/><circle cx="176.4" cy="92.7" r="0.7" fill="#000"/><circle cx="146" cy="89" r="0.9" fill="#000"/><circle cx="154.2" cy="102.3" r="0.7" fill="#000"/><circle cx="149.7" cy="107.5" r="0.8" fill="#000"/><circle cx="171.8" cy="129.7" r="0.7" fill="#000"/><circle cx="128.2" cy="146.4" r="0.8" fill="#000"/><circle cx="141.5" cy="146.4" r="0.7" fill="#000"/><circle cx="167.5" cy="150.8" r="0.9" fill="#000"/><circle cx="140.8" cy="179" r="0.7" fill="#000"/><circle cx="30.9" cy="151.2" r="0.6" fill="#000"/><circle cx="40.2" cy="155.5" r="0.6" fill="#000"/></g></defs><g stroke="#000" stroke-width="1.0" fill="none" stroke-linejoin="round"><polygon stroke-width="0.95" points="325.73,95.7 324.55,98.55 321.7,99.69 318.89,98.51 317.7,95.7 318.88,92.88 321.7,91.67 324.52,92.88"/><polygon stroke-width="0.95" points="327.92,95.92 326.81,99.69 323.6,102 319.68,101.93 316.49,99.66 315.29,95.92 316.47,92.18 319.65,89.84 323.57,89.94 326.71,92.23"/><polygon stroke-width="0.95" points="330.26,96.14 329.26,100.18 326.4,103.14 322.59,104.59 318.49,104.24 315.09,101.87 313.18,98.2 313.25,94.09 315.11,90.42 318.5,88.08 322.6,87.58 326.41,89.12 329.16,92.15"/><polygon stroke-width="0.95" points="331.99,96.32 331.26,100.36 328.94,103.76 325.55,106.09 321.5,106.9 317.51,105.97 314.13,103.7 311.68,100.39 311.01,96.32 311.82,92.31 313.95,88.77 317.47,86.58 321.5,85.69 325.54,86.58 328.99,88.84 331.17,92.32"/><polygon stroke-width="0.95" points="334.01,96.52 333.36,100.39 331.65,103.94 328.81,106.67 325.31,108.43 321.44,109.14 317.49,108.67 313.95,106.83 311.14,104 309.49,100.4 308.78,96.52 309.47,92.63 311.29,89.14 314.08,86.38 317.56,84.57 321.44,83.74 325.38,84.4 328.93,86.21 331.75,89.03 333.38,92.64"/><polygon stroke-width="0.95" points="336.46,96.75 335.99,100.67 334.49,104.33 332.12,107.5 328.94,109.86 325.3,111.43 321.37,111.63 317.48,111.27 313.76,109.92 310.69,107.43 308.21,104.35 306.97,100.61 306.33,96.75 306.92,92.88 308.32,89.22 310.71,86.09 313.93,83.87 317.5,82.31 321.37,81.78 325.3,82.07 328.94,83.63 331.92,86.19 334.5,89.17 335.78,92.89"/><polygon stroke-width="0.95" points="338.97,96.99 338.54,100.92 337.1,104.6 334.94,107.87 332.1,110.54 328.94,112.86 325.2,114.09 321.29,114.65 317.4,114.05 313.63,112.9 310.41,110.63 307.47,108.01 305.39,104.64 304.22,100.88 303.73,96.99 304.11,93.06 305.6,89.43 307.55,86.03 310.27,83.17 313.72,81.26 317.36,79.75 321.29,79.36 325.23,79.74 328.88,81.24 332.13,83.4 335.11,85.97 337.22,89.32 338.38,93.09"/><polygon stroke-width="0.95" points="341.09,97.22 340.6,101.2 339.62,105.11 337.43,108.5 334.98,111.69 331.74,114.09 328.08,115.72 324.24,116.94 320.22,116.92 316.23,116.5 312.53,114.94 309.13,112.84 306.11,110.19 303.64,106.97 302.36,103.13 301.51,99.22 301.31,95.19 301.98,91.18 303.75,87.52 306.12,84.25 308.87,81.26 312.53,79.5 316.18,77.74 320.22,77.39 324.22,77.66 328.09,78.68 331.73,80.36 335.07,82.65 337.47,85.91 339.59,89.33 340.83,93.19"/><polygon stroke-width="0.95" points="343.64,97.47 343.69,101.45 342.23,105.15 340.85,108.85 338.32,111.89 335.61,114.72 332.6,117.32 328.83,118.61 325.09,119.85 321.14,120.1 317.21,119.75 313.39,118.75 309.9,116.94 306.47,114.96 303.96,111.89 301.65,108.72 300.1,105.13 298.96,101.38 298.54,97.47 298.62,93.5 299.92,89.75 301.71,86.25 303.89,83 306.41,79.92 309.93,78.06 313.37,76.13 317.22,75.23 321.14,74.73 325.06,75.25 328.92,76.09 332.46,77.86 335.75,80.06 338.66,82.77 340.79,86.12 342.24,89.79 343.21,93.58"/><polygon stroke-width="0.95" points="346.77,97.77 346.42,101.69 345.38,105.47 344.33,109.29 341.86,112.41 339.6,115.62 336.81,118.44 333.23,120.16 329.76,122.03 325.96,123.12 322.02,123.21 318.1,123.27 314.19,122.72 310.53,121.24 306.98,119.5 304.06,116.83 301.31,114.05 299.12,110.8 297.16,107.39 295.72,103.69 295.32,99.74 295.2,95.78 296.04,91.92 297.02,88.08 299.13,84.73 301.28,81.47 303.84,78.46 306.97,76.04 310.53,74.31 314.29,73.18 318.11,72.33 322.03,72.21 325.92,72.62 329.82,73.35 333.26,75.31 336.8,77.1 339.77,79.75 341.88,83.11 344.06,86.37 345.59,90 346.2,93.88"/><circle cx="321.6" cy="95.5" r="0.5" fill="#000"/><g clip-path="url(#c0)"><use href="#nz" transform="translate(52.7,1.8)"/></g><g clip-path="url(#c2)"><use href="#nz" transform="translate(414.5,1.8)"/></g><g clip-path="url(#c3)"><use href="#nz" transform="translate(52.7,184.6)"/></g><g clip-path="url(#c4)"><use href="#nz" transform="translate(233.45,184.6)"/></g><g transform="translate(52.7,184.6)"><polygon points="61.7,93.7 63.6,86 66.4,82.2 69.3,79.3 73.1,75.5 76,73.6 81.7,72.6 84.6,70.7 88.4,70.3 95.1,71.7 98,74.5 101.8,77.4 104.7,80.3 108.5,82.2 110.5,84.1 109.5,87.9 108.5,93.7 104.7,99.4 102.8,105.2 103.8,110.9 105.7,114.7 104.7,118.6 99,119.5 93.2,120.5 87.5,121.4 83.7,120.5 80.8,116.6 77.9,112.8 74.1,109.9 70.3,106.1 67.4,102.3 63.6,98.5"/><polygon points="65.5,92.7 67.4,86 71.2,81.2 75.1,77.4 80.8,75.5 87.5,74.5 94.2,75.5 99,78.4 103.8,82.2 106.6,87 104.7,93.7 101.8,100.4 99.9,106.1 100.9,112.8 99,116.6 93.2,117.6 87.5,118.6 82.7,116.6 78.9,112.8 75.1,109 71.2,105.2 68.4,100.4"/><polygon points="67.61,92.24 70.13,99.58 72.69,103.97 83.79,114.97 87.84,116.59 97.88,114.54 98.89,112.36 97.95,105.93 102.93,92.98 104.46,87.39 102.32,83.48 97.97,80.01 93.54,77.35 87.56,76.44 81.25,77.36 76.27,79.02 72.67,82.42 69.2,86.79"/><polygon points="69.42,92.07 71.67,98.85 74.03,102.9 84.64,113.44 88.2,114.81 95.85,113.49 96.79,112.92 97.12,111.89 96.21,105.78 98.43,99.11 101.33,92.39 102.6,87.66 101.01,84.62 97.02,81.42 92.95,78.98 87.57,78.16 81.64,79.02 77.22,80.49 73.95,83.55 70.77,87.56"/><polygon points="88.8,71.4 91.8,65 94.2,71.4"/><polygon points="103.8,79.9 105.3,73.6 110.5,80.4"/><polygon points="59.9,92.4 62.8,88.9 66.3,91.9 63.8,96.4"/><polygon points="102.8,112.4 105.8,110.9 108.5,114.4 105.8,118.4"/><polygon points="72.2,83.2 78.9,79.3 88.4,79.3 96.1,82.2 99.9,87.9 100.9,95.6 99,103.2 96.1,109 91.3,111.9 84.6,110.9 77.9,108 73.1,103.2 71.2,96.5 71.2,89.8"/><polygon points="86.5,84.1 93.2,83.2 97.4,87.9 97.4,93.7 94.2,96.5 89.4,95.6 86.5,90.8"/><polygon points="88.4,86 93.2,85.6 95.5,89.8 94.8,93.7 90.9,93.7 88.4,89.8"/><polygon points="74.1,99.4 79.8,95.6 86.5,98.5 91.3,105.2 88.4,108 80.8,107.1 75.1,104.2"/><ellipse cx="81.7" cy="101.3" rx="2.6" ry="0.8"/><polygon points="92.3,99.8 93.8,101.3 92.3,102.8 90.8,101.3"/></g><g transform="translate(233.75,184.6)"><polygon points="56.75,89.6 60.65,85.8 63.45,81 66.35,78.2 70.15,79.1 72.05,74.3 76.85,72.4 81.65,69.5 86.45,68.6 89.35,67.6 92.15,64.8 95.05,66.7 96.95,72.4 99.85,75.3 103.65,74.3 107.45,78.2 110.35,82 109.45,86.8 106.55,91.5 104.65,97.3 103.65,103 105.55,107.8 108.45,111.6 107.45,116.4 103.65,118.3 98.85,119.3 94.05,120.3 89.35,121.2 84.55,122.2 80.65,119.3 77.85,115.5 74.95,111.6 72.05,107.8 68.25,104 65.35,100.2 61.55,96.3 57.75,93.5"/><polygon points="65.35,87.7 67.35,82 72.05,79.1 77.85,76.2 84.55,74.3 92.15,73.4 97.95,78.2 102.75,82 104.65,86.8 101.75,93.5 99.85,100.2 100.75,106.9 103.65,111.6 101.75,115.5 96.05,116.4 89.35,117.4 83.55,116.4 78.75,111.6 74.05,106.9 69.25,101.1 66.35,94.4"/><polygon points="69.25,88.7 72.05,82.9 77.85,79.1 85.45,77.2 93.15,77.2 98.85,82 101.75,88.7 98.85,96.3 96.95,104 97.95,109.7 95.05,113.6 89.35,114.5 82.65,113.6 76.85,108.8 72.05,103 69.25,96.3"/><polygon points="73.05,88.7 76.85,82.9 83.55,80.1 92.15,81 96.95,86.8 97.95,95.4 95.05,103 92.15,108.8 86.45,110.7 79.75,108.8 74.95,103 73.05,96.3"/><polygon points="76.85,89.6 79.75,84.8 86.45,82.9 93.15,84.8 95.05,91.5 94.05,100.2 91.25,105.9 85.45,107.8 80.65,105.9 77.85,100.2 76.85,94.4"/><polygon points="86.45,87.7 92.15,86.8 95.05,90.6 94.05,95.4 89.35,95.4 86.45,92.5"/><circle cx="83.55" cy="102.1" r="0.9" fill="#000"/></g><g transform="translate(414.5,1.8)"><polygon points="63.8,84.8 65.7,80 69.5,78.1 74.3,72.3 78.1,71.4 82.9,72.3 85.8,70.4 89.6,68.5 92.5,65.6 94.4,67.6 93.4,71.4 98.2,74.3 103,76.2 104.9,74.3 108.7,78.1 112.6,81.9 108.7,83.8 104.9,84.8 103,88.6 104.9,93.4 104,99.1 101.1,103.9 103,108.7 106.8,112.5 105.9,116.4 103,119.2 98.2,118.3 93.4,119.2 87.7,119.2 83.9,117.3 80,114.4 76.2,111.6 72.4,108.7 69.5,104.9 66.6,100.1 63.8,95.3 62.8,89.6"/><polygon points="67.6,86.7 70.5,81.9 76.2,77.1 82.9,76.2 89.6,73.3 96.3,76.2 102,80 103,84.8 100.1,89.6 101.1,96.3 98.2,103 99.2,109.7 101.1,114.4 96.3,115.4 89.6,116.4 83.9,114.4 78.1,110.6 72.4,105.8 68.6,99.1 66.6,92.4"/><polygon points="71.4,88.6 74.3,83.8 80,80 87.7,78.1 95.3,80 99.2,84.8 98.2,91.5 97.3,99.1 95.3,105.8 96.3,110.6 90.6,112.5 84.8,111.6 79.1,107.7 74.3,103 71.4,96.3"/><polygon points="88.6,81.9 95.3,81.9 99.2,86.7 98.2,92.4 93.4,93.4 89.6,89.6"/><polygon points="90.6,83.8 95.3,84.4 97.3,87.6 96.3,91.1 93,91.1 90.6,87.6"/><polygon points="78.1,104.7 80.3,101 82.9,105.2"/><polygon points="65.7,83.2 68.5,80 71.4,83.2 68.5,86.7"/><polygon points="84.8,108.7 86.7,106.8 88.6,108.7 86.7,110.6"/><polygon points="77.2,90.5 85.8,85.7 94.4,99.1 86.7,103.9"/><path d="M77.5 90.9L87 103.5M85.6 86.3L93.9 98.9" stroke-width="2.3"/><path d="M149.8 132V151.4" stroke-width="2.6"/><circle cx="78.8" cy="79.5" r="0.9" fill="#000"/></g><polygon points="109.9,84.5 112.1,80.9 113.5,76.6 115.7,73.7 121.4,70.1 126.4,66.6 130.8,65.1 135.1,66.6 138,64.4 141.5,68 145.7,65.8 150,70.9 154.4,73 158.7,75.9 163,80.2 165.8,83.1 167.3,88.8 170.1,91 174.4,93.1 173,97 170.9,100.7 167.3,105 166.6,109.4 170.9,110.8 174.4,113.7 170.9,116.5 168.7,119.4 163.7,120.1 161.5,122.3 158.7,125.9 154.4,127.3 150.8,129.4 147.2,132.3 143.6,133.8 141.5,134.5 139.4,136.6 136.5,133.8 134.3,128.7 131.5,125.9 127.2,125.1 122.1,123.7 117.8,121.6 114.2,118.7 110.6,115.1 107.7,117 104.8,118.5 102.4,116.5 99.6,115.6 97.6,118 95.7,118.9 94.3,117 95.7,115.1 99.1,112.7 101.5,110.8 104.3,109.9 106.7,108.9 107.7,106.5 106.3,105.6 102.4,106 100.5,104.6 101.5,102.7 105.3,102.2 107.7,100.8 106.7,96.5 104.3,92.6 105.3,88.8 108.5,85.5"/><polygon points="104.21,110.36 103.42,111.67 103.79,113.15 108.22,115.51 109.69,115.49 114.52,112.57 121.08,118.14 124.79,119.82 132.68,121.56 135,124.34 136.99,129.61 138.39,131.07 139.9,131.3 141.28,130.3 146.26,128.41 149.55,125.75 152.79,123.98 156.64,122.92 161.42,117.88 166.42,117.28 170.21,113.63 170.64,112.36 170.04,110.96 168.29,109.64 164.16,108.24 164.91,104.27 168.74,100.24 170.91,96.8 171.71,93.76 170.96,92.68 168.16,91.35 165.47,89.31 164.06,83.79 157.68,77.29 153.47,74.47 149.31,72.58 145.95,68.63 144.2,68.42 141.36,70.06 138.44,67.41 137.13,67.53 135.44,68.88 130.96,67.68 127.39,69.1 118.06,75.96 116.23,78.68 115.23,82.68 113.41,85.92 109.37,89.56 108.63,93.11 110.96,96.5 112.05,100.21 110.11,101.41 109.69,103.07 110.39,104.23 112.02,105.14 110.97,107.28 105.88,109.17"/><polygon points="108.96,108.34 108.14,109.63 108.46,111.12 112.02,113.02 113.56,113.01 118.45,110.05 124.16,114.59 127.13,115.83 133.86,117.21 135.71,119.98 137.32,125.29 138.5,126.59 140.04,126.78 145.4,124.48 148.29,122.1 151.18,120.65 154.88,119.86 159.15,115.66 164.06,115.41 167.49,112.44 168.01,111.02 167.38,109.64 165.92,108.56 161.73,107.08 162.53,103.54 166.48,99.93 168.77,96.76 169.57,93.99 168.79,92.86 166.23,91.7 163.65,89.81 162.47,84.58 156.53,78.54 152.54,75.94 148.62,74.26 145.64,70.66 143.93,70.4 141.21,72.13 138.58,69.72 137.2,69.89 135.77,71.16 131.74,70.05 128.46,71.54 120.16,78.53 118.93,80.74 118.35,84.46 116.91,87.34 113.43,90.27 112.72,92.53 112.95,93.92 115.22,96.5 116.41,99.62 115.03,100.52 114.62,101.78 115.09,103.02 116.34,103.78 115.24,105.67"/><polyline points="135.1,125.2 138.3,130.6 140.5,136 137.2,142.4 139.4,147.8 141.6,153.2 142.6,158.6 146.9,159.7 148,153.2 145.9,146.7 149.1,141.3 150.2,135.9 152.3,131.6"/><polygon points="126.5,131 129.5,127.3 132.9,131.5 130.5,138.1 127.5,136"/><polygon points="127.9,140.9 126,135 127.9,132.5 129.8,135"/><polygon points="127.9,140.9 122.5,138.5 119.8,140.5 123,142.8"/><polygon points="127.9,140.9 125.8,146 127.9,149.3 130,146"/><polygon points="127.9,140.9 132,138.6 134.9,140.2 132.3,142.5"/><polyline points="143,156.7 149.1,162.7 143,167.3 146,170.3 152.1,173.4"/><polyline points="155.1,153.6 159.7,152.1 164.2,156.7 162.7,162.7 168.8,167.3 165.7,173.4 170.3,179.4"/><polygon points="171.8,158.2 177.9,156.7 185.5,162.7 188.5,170.3 182.4,171.8 176.4,168.8 173.3,162.7"/><polyline points="173.3,176.4 179.4,179.4 187,177.9 194.6,182.5"/><polyline points="175.7,54.3 181.2,51 185.5,49.9 189.9,51 194.5,51"/><ellipse cx="183" cy="50.8" rx="2.5" ry="1.6"/><ellipse cx="181.2" cy="70" rx="1.6" ry="4.6"/><polygon points="160.5,47 164.5,45.5 167,48.5 164,51"/><polygon points="146.22,95.75 145.15,99.41 142.44,101.71 139.09,101.62 136.29,99.47 135.23,95.75 136.31,92.05 139.09,89.89 142.44,89.8 145.13,92.1"/><polygon points="149.18,96.25 148.22,100.7 145.51,104.28 141.46,105.71 137.28,105.18 133.78,102.61 132,98.5 131.85,93.96 133.77,89.87 137.23,87.18 141.44,86.97 145.35,88.47 148.03,91.91"/><polygon points="151.38,96.25 150.65,101.06 148.2,105.15 144.39,107.49 140.2,108.31 135.95,107.66 132.39,104.93 129.65,101.11 128.86,96.25 129.79,91.45 132.25,87.41 135.87,84.63 140.2,84.08 144.47,84.79 147.95,87.64 150.82,91.36"/><polygon points="153.05,96.75 152.82,101.4 150.88,105.6 147.97,109.08 143.91,110.54 139.85,111.3 135.81,110.49 132.11,108.51 128.78,105.63 127.42,101.21 126.37,96.75 127.34,92.26 129.14,88.16 131.99,84.8 135.59,82.26 139.85,81.78 143.85,83.15 147.62,84.94 150.44,88.26 153,92.03"/><polygon points="154.66,96.85 154.89,101.59 153.11,105.93 150.67,109.95 146.66,111.86 142.75,113.38 138.57,114.41 134.37,113.33 130.84,110.7 127.39,107.91 125.52,103.66 123.87,99.26 124.76,94.58 125.73,90.14 127.16,85.58 130.79,82.93 134.55,80.94 138.56,79.18 142.85,79.77 146.58,82.01 150.31,84.19 153.13,87.76 154.18,92.33"/><polygon points="158.24,96.9 156.03,101.41 155.72,106.32 152.43,109.58 150.14,113.99 145.51,114.52 141.7,117.3 137.25,116.91 132.86,116.07 128.74,114.01 126.36,109.69 123.81,105.95 121.66,101.74 121.89,96.9 122.43,92.27 123.99,87.95 125.53,83.3 128.87,79.99 132.9,77.84 137.35,77.79 141.71,76.41 145.82,78.37 149.37,81.04 152.83,83.83 155.22,87.77 156.14,92.36"/><polygon points="158.98,97 158.81,101.73 157.34,106.19 155.27,110.32 152.34,113.77 149.18,117.09 144.89,118.1 140.89,120.02 136.66,118.43 132.48,118.2 128.59,116.38 125.47,113.26 121.58,110.77 120.28,106.08 117.9,101.89 117.05,97 119.11,92.39 119.05,87.32 121.46,83.14 124.66,79.74 128.95,78.3 132.37,75.42 136.52,74 140.8,74.84 144.87,75.99 148.78,77.68 152.11,80.52 155.9,83.17 157.2,87.88 158.68,92.3"/><polygon points="163.17,97.3 163.64,101.95 162.94,106.63 159.31,109.86 158.05,114.43 154.85,117.56 151.24,120.09 146.78,120.37 142.86,121.22 138.9,122.73 134.57,123.48 130.88,120.8 126.8,119.65 123.7,116.62 119.57,114.6 116.79,110.91 116.44,106.02 113.59,102.06 116.01,97.3 114.14,92.65 115.1,88.07 118.85,84.96 119.89,80.29 123.23,77.39 126.12,73.7 130.92,73.93 134.68,71.77 138.9,70.28 143.17,71.45 146.98,73.63 150.37,76.12 155.3,76.46 157.38,80.77 161.15,83.61 160.63,88.87 163.65,92.65"/><circle cx="141" cy="95.4" r="0.5" fill="#000"/></g></svg></body></html>
